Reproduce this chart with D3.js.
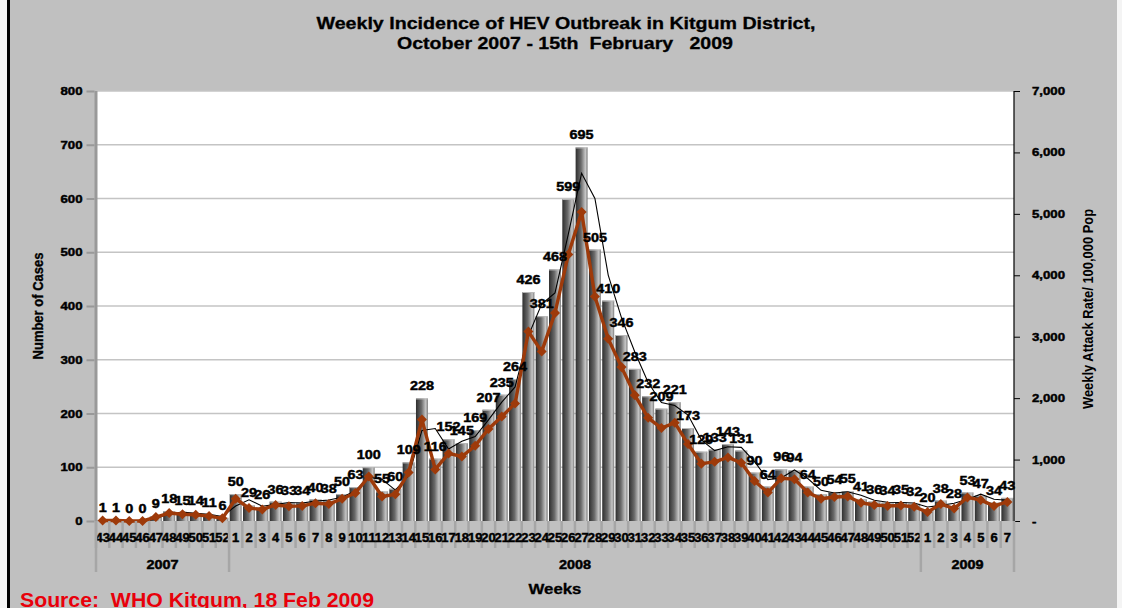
<!DOCTYPE html>
<html><head><meta charset="utf-8">
<script src="https://cdn.jsdelivr.net/npm/d3@7"></script>
<style>
html,body{margin:0;padding:0;background:#fff;}
svg{display:block;font-family:Arial,"Liberation Sans",sans-serif;}
</style></head>
<body>
<svg id="chart" width="1122" height="608"></svg>
<script>
// ---------------- data ----------------
const years = ["2007", "2008", "2009"];
const weeks2007 = ["43","44","45","46","47","48","49","50","51","52"];
const weeks2008 = ["1","2","3","4","5","6","7","8","9","10","11","12","13","14","15","16","17","18","19","20","21","22","23","24","25","26","27","28","29","30","31","32","33","34","35","36","37","38","39","40","41","42","43","44","45","46","47","48","49","50","51","52"];
const weeks2009 = ["1","2","3","4","5","6","7"];

const cases2007 = [1,1,0,0,9,18,15,14,11,6];
const cases2008 = [50,29,26,36,33,34,40,38,50,63,100,55,60,109,228,116,152,145,169,207,235,264,426,381,468,599,695,505,410,346,283,232,209,221,173,129,133,143,131,90,64,96,94,64,50,54,55,41,36,34,35,32];
const cases2009 = [20,38,28,53,47,34,43];

// weekly attack rate per 100,000 population (right axis)
const rate2007 = [7,7,0,0,65,130,109,101,80,43];
const rate2008 = [362,210,188,261,239,246,290,275,362,456,724,398,434,789,1651,840,1100,1050,1224,1499,1701,1911,3084,2758,3388,4337,5032,3656,2968,2505,2049,1680,1513,1600,1253,934,963,1035,948,652,463,695,681,463,362,391,398,297,261,246,253,232];
const rate2009 = [145,275,203,384,340,246,311];

const leftTicks = [0,100,200,300,400,500,600,700,800];
const rightTicks = [0,1000,2000,3000,4000,5000,6000,7000];

// ---------------- build table ----------------
const rows = [];
[[years[0],weeks2007,cases2007,rate2007],[years[1],weeks2008,cases2008,rate2008],[years[2],weeks2009,cases2009,rate2009]]
  .forEach(([yr,wk,cs,rt]) => wk.forEach((w,i) => rows.push({key: yr+"-"+w, year: yr, week: w, cases: cs[i], rate: rt[i]})));

// ---------------- layout ----------------
const svg = d3.select("#chart");
const W = 1122, H = 608;
const L = 96, R = 1014, T = 91, B = 521;
const SX = 1.2; // horizontal stretch of the reference's lettering
const HEAVY = 0.45; // extra stroke to mimic the heavy lettering

// background
svg.append("rect").attr("x",0).attr("y",0).attr("width",W).attr("height",H).attr("fill","#f4f4f4");
svg.append("rect").attr("x",10).attr("y",0).attr("width",1107).attr("height",H).attr("fill","#c0c0c0");
svg.append("rect").attr("x",7).attr("y",0).attr("width",3).attr("height",H).attr("fill","#000");

const x = d3.scaleBand().domain(rows.map(d=>d.key)).range([L,R]).paddingInner(0.1).paddingOuter(0.05);
const y = d3.scaleLinear().domain([0,800]).range([B,T]);
const y2 = d3.scaleLinear().domain([0,7000]).range([B,T]);

// plot area
svg.append("rect").attr("x",L).attr("y",T).attr("width",R-L).attr("height",B-T).attr("fill","#fff");

// gridlines
svg.append("g").selectAll("line").data(leftTicks.filter(v=>v>0)).join("line")
  .attr("x1",L).attr("x2",R).attr("y1",d=>y(d)).attr("y2",d=>y(d))
  .attr("stroke","#c4c4c4").attr("stroke-width",1.5);

// gradient
const defs = svg.append("defs");
const g = defs.append("linearGradient").attr("id","barGrad").attr("x1","0").attr("x2","1").attr("y1","0").attr("y2","0");
[[0,"#2e2e2e"],[0.45,"#6a6a6a"],[0.82,"#c6c6c6"],[1,"#7a7a7a"]].forEach(([o,c]) =>
  g.append("stop").attr("offset",o).attr("stop-color",c));

// bars
svg.append("g").selectAll("rect").data(rows).join("rect")
  .attr("x",d=>x(d.key)).attr("width",x.bandwidth())
  .attr("y",d=>y(d.cases)).attr("height",d=>B-y(d.cases))
  .attr("fill","url(#barGrad)");
svg.append("g").selectAll("line").data(rows.filter(d=>d.cases>0)).join("line")
  .attr("x1",d=>x(d.key)).attr("x2",d=>x(d.key)+x.bandwidth())
  .attr("y1",d=>y(d.cases)+0.5).attr("y2",d=>y(d.cases)+0.5)
  .attr("stroke","#b8b8b8").attr("stroke-width",1);

const cx = d => x(d.key) + x.bandwidth()/2;

// 2-period moving average trendline of cases
const ma = rows.slice(1).map((d,i) => ({key: d.key, v: (rows[i].cases + d.cases)/2}));
svg.append("path").datum(ma)
  .attr("d", d3.line().x(cx).y(d=>y(d.v)))
  .attr("fill","none").attr("stroke","#000").attr("stroke-width",1.1);

// attack rate line
const rateColor = "#9e3a0a";
svg.append("path").datum(rows)
  .attr("d", d3.line().x(cx).y(d=>y2(d.rate)))
  .attr("fill","none").attr("stroke",rateColor).attr("stroke-width",3.4).attr("stroke-linejoin","round");
svg.append("g").selectAll("path").data(rows).join("path")
  .attr("transform",d=>`translate(${cx(d)},${y2(d.rate)})`)
  .attr("d", d3.symbol(d3.symbolDiamond2, 64)())
  .attr("fill",rateColor);

// stretched text helper
function stext(parent, tx, ty, str, size, opts = {}) {
  const sc = opts.rotate ? `scale(1,${opts.sx || SX})` : `scale(${opts.sx || SX},1)`;
  const t = parent.append("text")
    .attr("transform", `translate(${tx},${ty}) ${opts.rotate ? "rotate(" + opts.rotate + ")" : ""} ${sc}`)
    .attr("text-anchor", opts.anchor || "middle")
    .attr("font-size", size).attr("font-weight", opts.weight || "bold")
    .attr("fill", opts.fill || "#000")
    .attr("stroke", opts.fill || "#000").attr("stroke-width", opts.heavy === undefined ? HEAVY : opts.heavy)
    .style("white-space","pre")
    .text(str);
  return t;
}

// data labels
const lab = svg.append("g");
rows.forEach(d => stext(lab, cx(d), y(d.cases)-8, String(d.cases), 12));

// left axis
svg.append("line").attr("x1",L).attr("x2",L).attr("y1",T).attr("y2",B).attr("stroke","#999").attr("stroke-width",3);
const la = svg.append("g").attr("transform",`translate(${L-1.5},0)`)
  .call(d3.axisLeft(y).tickValues(leftTicks).tickSize(8).tickPadding(4));
la.select(".domain").remove();
la.selectAll(".tick line").attr("stroke","#999").attr("stroke-width",2);
la.selectAll(".tick text").each(function(){
  const t = d3.select(this); const xx = +t.attr("x");
  t.attr("x",0).attr("transform",`translate(${xx},0) scale(${SX},1)`);
}).attr("font-size",11).attr("font-weight","bold").attr("fill","#000").attr("stroke","#000").attr("stroke-width",HEAVY)
  .attr("font-family","Arial, Liberation Sans, sans-serif");

// right axis
const ra = svg.append("g").attr("transform",`translate(${R},0)`)
  .call(d3.axisRight(y2).tickValues(rightTicks).tickSize(6).tickPadding(12).tickFormat(d=> d===0 ? "-" : d3.format(",")(d)));
ra.select(".domain").attr("stroke","#000").attr("stroke-width",1.2).attr("d",`M0,${T}V${B}`);
ra.selectAll(".tick line").attr("stroke","#000");
ra.selectAll(".tick text").each(function(){
  const t = d3.select(this); const xx = +t.attr("x");
  t.attr("x",0).attr("transform",`translate(${xx},0) scale(${SX},1)`);
}).attr("font-size",11).attr("font-weight","bold").attr("fill","#000").attr("stroke","#000").attr("stroke-width",HEAVY)
  .attr("font-family","Arial, Liberation Sans, sans-serif");

// x axis: category ticks
const step = x.step();
const xb = svg.append("g");
xb.selectAll("line.tk").data(rows).join("line").attr("class","tk")
  .attr("x1",d=>x(d.key)-step*0.05).attr("x2",d=>x(d.key)-step*0.05)
  .attr("y1",B).attr("y2",B+27).attr("stroke","#a6a6a6").attr("stroke-width",2.5);
xb.append("line").attr("x1",R).attr("x2",R).attr("y1",B).attr("y2",B+51).attr("stroke","#a6a6a6").attr("stroke-width",2.5);
rows.forEach(d => stext(xb, cx(d), B+21, d.week, 12, {sx: 1.08}));

// year groups
const groups = years.map(yr => {
  const r = rows.filter(d=>d.year===yr);
  return {yr, x0: x(r[0].key)-step*0.05, x1: x(r[r.length-1].key)+x.bandwidth()+step*0.05};
});
xb.selectAll("line.grp").data(groups).join("line").attr("class","grp")
  .attr("x1",d=>d.x0).attr("x2",d=>d.x0).attr("y1",B).attr("y2",B+51)
  .attr("stroke","#a6a6a6").attr("stroke-width",2.5);
groups.forEach(d => stext(xb, (d.x0+d.x1)/2, B+48, d.yr, 12, {sx: 1.2}));

// axis titles
stext(svg, 555, 594, "Weeks", 14, {heavy: 0.3});
stext(svg, 43, 306, "Number of Cases", 13, {rotate: -90, sx: 1.15, heavy: 0.3});
svg.append("text").attr("transform","translate(1093,309) rotate(-90) scale(1,1.15)").attr("text-anchor","middle")
  .attr("font-size",12.5).attr("font-weight","bold").attr("textLength",200).attr("lengthAdjust","spacingAndGlyphs")
  .attr("fill","#000").text("Weekly Attack Rate/ 100,000 Pop");

// title
svg.append("text").attr("x",566).attr("y",29).attr("text-anchor","middle")
  .attr("textLength",499).attr("lengthAdjust","spacingAndGlyphs").attr("stroke","#000").attr("stroke-width",0.3)
  .attr("font-size",16).attr("font-weight","bold").text("Weekly Incidence of HEV Outbreak in Kitgum District,");
svg.append("text").attr("x",565).attr("y",49).attr("text-anchor","middle").style("white-space","pre")
  .attr("textLength",336).attr("lengthAdjust","spacingAndGlyphs").attr("stroke","#000").attr("stroke-width",0.3)
  .attr("font-size",16).attr("font-weight","bold").text("October 2007 - 15th  February   2009");

// source
svg.append("text").attr("x",20).attr("y",607).style("white-space","pre")
  .attr("textLength",354).attr("lengthAdjust","spacingAndGlyphs")
  .attr("font-size",21).attr("font-weight","bold").attr("fill","#e8000b").text("Source:  WHO Kitgum, 18 Feb 2009");
</script>
</body></html>
